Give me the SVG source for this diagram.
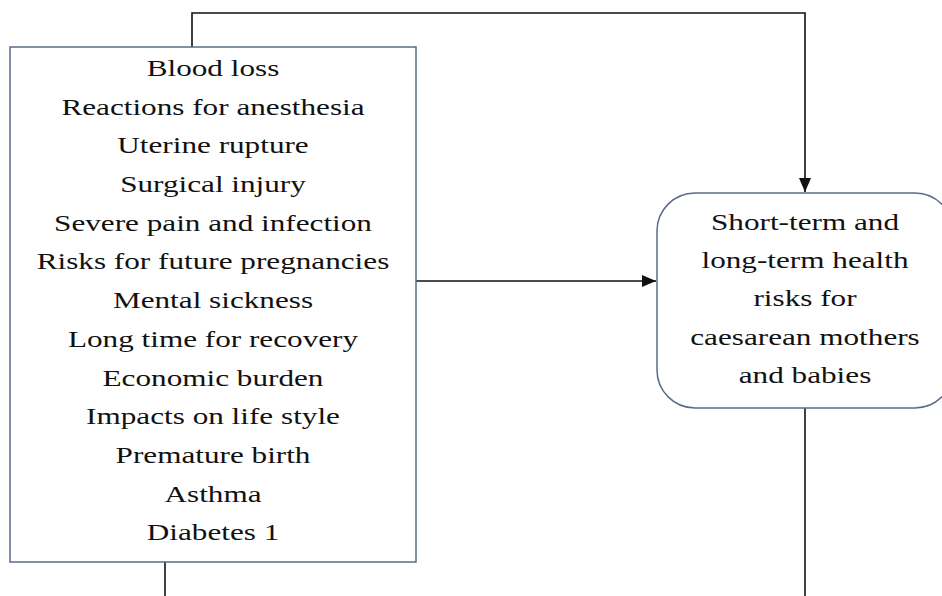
<svg xmlns="http://www.w3.org/2000/svg" width="942" height="596" viewBox="0 0 942 596">
<defs>
<style>
.box{fill:#fff;stroke:#5b6a8a;stroke-width:1.5}
.conn{fill:none;stroke:#111;stroke-width:1.6}
.t{font-family:"Liberation Serif","Times New Roman",serif;font-size:24px;fill:#111;text-anchor:middle}
</style>
<marker id="arr" markerUnits="userSpaceOnUse" markerWidth="14" markerHeight="12" refX="14" refY="6" orient="auto">
<path d="M0,0 L14,6 L0,12 Z" fill="#111"/>
</marker>
</defs>
<rect width="942" height="596" fill="#fff"/>
<g id="connectors">
<path class="conn" d="M192,47 V13 H805 V192" marker-end="url(#arr)"/>
<path class="conn" d="M416,281 H656" marker-end="url(#arr)"/>
<path class="conn" d="M805,408 V596"/>
<path class="conn" d="M165,562 V596"/>
</g>
<g id="risks-list">
<rect class="box" x="10" y="47" width="406" height="515"/>
<g transform="translate(213 0) scale(1.3 1)">
<text class="t" x="0" y="76">Blood loss</text>
<text class="t" x="0" y="114.7">Reactions for anesthesia</text>
<text class="t" x="0" y="153.4">Uterine rupture</text>
<text class="t" x="0" y="192.1">Surgical injury</text>
<text class="t" x="0" y="230.8">Severe pain and infection</text>
<text class="t" x="0" y="269.5">Risks for future pregnancies</text>
<text class="t" x="0" y="308.2">Mental sickness</text>
<text class="t" x="0" y="346.9">Long time for recovery</text>
<text class="t" x="0" y="385.6">Economic burden</text>
<text class="t" x="0" y="424.3">Impacts on life style</text>
<text class="t" x="0" y="463">Premature birth</text>
<text class="t" x="0" y="501.7">Asthma</text>
<text class="t" x="0" y="540.4">Diabetes 1</text>
</g>
</g>
<g id="health-risks">
<rect class="box" x="657" y="193" width="296" height="215" rx="38" ry="38"/>
<g transform="translate(805 0) scale(1.3 1)">
<text class="t" x="0" y="230">Short-term and</text>
<text class="t" x="0" y="268.3">long-term health</text>
<text class="t" x="0" y="306.5">risks for</text>
<text class="t" x="0" y="344.8">caesarean mothers</text>
<text class="t" x="0" y="383">and babies</text>
</g>
</g>
</svg>
